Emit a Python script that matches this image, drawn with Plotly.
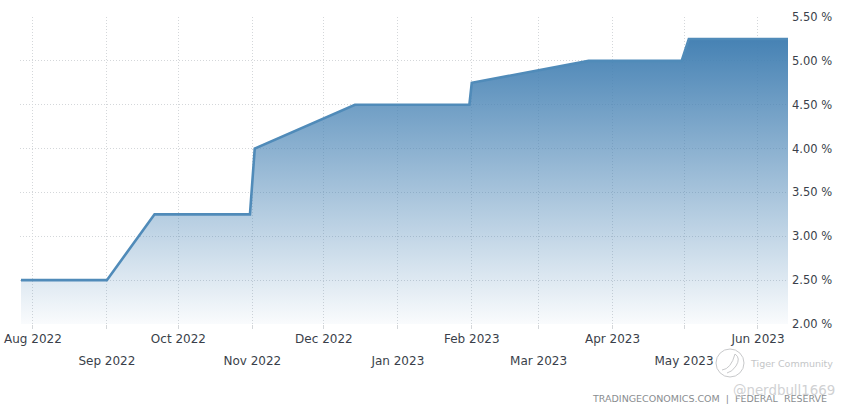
import plotly.graph_objects as go

dates = ["2022-07-27", "2022-09-01", "2022-09-21", "2022-10-31", "2022-11-02", "2022-12-14",
         "2023-01-31", "2023-02-01", "2023-03-22", "2023-04-30", "2023-05-03", "2023-06-14"]
rates = [2.5, 2.5, 3.25, 3.25, 4.0, 4.5, 4.5, 4.75, 5.0, 5.0, 5.25, 5.25]

upper_ticks = ["2022-08-01", "2022-10-01", "2022-12-01", "2023-02-01", "2023-04-01", "2023-06-01"]
upper_labels = ["Aug 2022", "Oct 2022", "Dec 2022", "Feb 2023", "Apr 2023", "Jun 2023"]
lower_ticks = ["2022-09-01", "2022-11-01", "2023-01-01", "2023-03-01", "2023-05-01"]
lower_labels = ["Sep 2022", "Nov 2022", "Jan 2023", "Mar 2023", "May 2023"]
y_ticks = [2.0, 2.5, 3.0, 3.5, 4.0, 4.5, 5.0, 5.5]
y_labels = ["2.00 %", "2.50 %", "3.00 %", "3.50 %", "4.00 %", "4.50 %", "5.00 %", "5.50 %"]

W, H = 852, 411
L, R, T, B = 20, 788, 17, 324
TXT = "#3a3f4a"
FONT = "DejaVu Sans"

def px(x):
    return (x - L) / (R - L)

def py(y):
    return (B - y) / (B - T)

fig = go.Figure()
fig.add_trace(go.Scatter(
    x=dates, y=rates, mode="lines", hoverinfo="skip",
    line=dict(color="#508bb9", width=2.6, shape="linear"),
    fill="tozeroy",
    fillgradient=dict(type="vertical", start=5.25, stop=2.0,
                      colorscale=[[0, "rgba(70,130,180,1)"], [1, "rgba(70,130,180,0.03)"]]),
))
fig.add_trace(go.Scatter(x=dates, y=rates, xaxis="x2", mode="none", hoverinfo="skip", showlegend=False))

xrange_ = ["2022-07-26 14:00", "2023-06-13 14:00"]
grid = "#d4d7da"
fig.update_layout(
    width=W, height=H, autosize=False, showlegend=False,
    paper_bgcolor="white", plot_bgcolor="white",
    margin=dict(l=L, r=W - R, t=T, b=H - B),
    font=dict(family=FONT, size=12, color=TXT),
    xaxis=dict(type="date", range=xrange_, tickmode="array", tickvals=upper_ticks + lower_ticks,
               ticktext=upper_labels + [""] * len(lower_labels), tickangle=0, automargin=False,
               showgrid=True, gridcolor=grid, griddash="1px,2px", gridwidth=1, zeroline=False,
               ticks="outside", ticklen=4, tickcolor=grid, showline=False),
    xaxis2=dict(type="date", range=xrange_, overlaying="x", side="bottom", anchor="y", automargin=False,
                tickmode="array", tickvals=lower_ticks, ticktext=lower_labels, tickangle=0,
                ticklabelstandoff=28, showgrid=False, zeroline=False, ticks="", showline=False),
    yaxis=dict(range=[2.0, 5.5], side="right", tickmode="array", tickvals=y_ticks, ticktext=y_labels,
               automargin=False, tickfont=dict(size=11.5), ticklabelstandoff=3,
               showgrid=True, gridcolor=grid, griddash="1px,2px", gridwidth=1, zeroline=False,
               ticks="", showline=False),
    annotations=[
        dict(xref="paper", yref="paper", x=px(829), y=py(398), xanchor="right", yanchor="middle",
             showarrow=False, text="TRADINGECONOMICS.COM  |  FEDERAL  RESERVE",
             font=dict(size=9.5, color="#8a8d90")),
        dict(xref="paper", yref="paper", x=px(748), y=py(363), xanchor="left", yanchor="middle",
             showarrow=False, text="Tiger Community", font=dict(size=9.5, color="#c4c6c8")),
        dict(xref="paper", yref="paper", x=px(731), y=py(390), xanchor="left", yanchor="middle",
             showarrow=False, text="@nerdbull1669", font=dict(size=13.4, color="#d0d1d3")),
    ],
    shapes=[
        dict(type="circle", xref="paper", yref="paper", x0=px(716), x1=px(744), y0=py(377), y1=py(349),
             line=dict(color="#c8c9cb", width=1), fillcolor="rgba(255,255,255,0.4)"),
        dict(type="path", xref="paper", yref="paper",
             path=f"M {px(722)} {py(370)} Q {px(731)} {py(369)} {px(735)} {py(354)} "
                  f"Q {px(741)} {py(358)} {px(736)} {py(366)} Q {px(732)} {py(372)} {px(727)} {py(373)}",
             line=dict(color="#c8c9cb", width=1)),
    ],
)
fig.write_html("out.html", config=dict(displayModeBar=False),
               post_script="document.body.style.margin='0';document.body.style.overflow='hidden';")
